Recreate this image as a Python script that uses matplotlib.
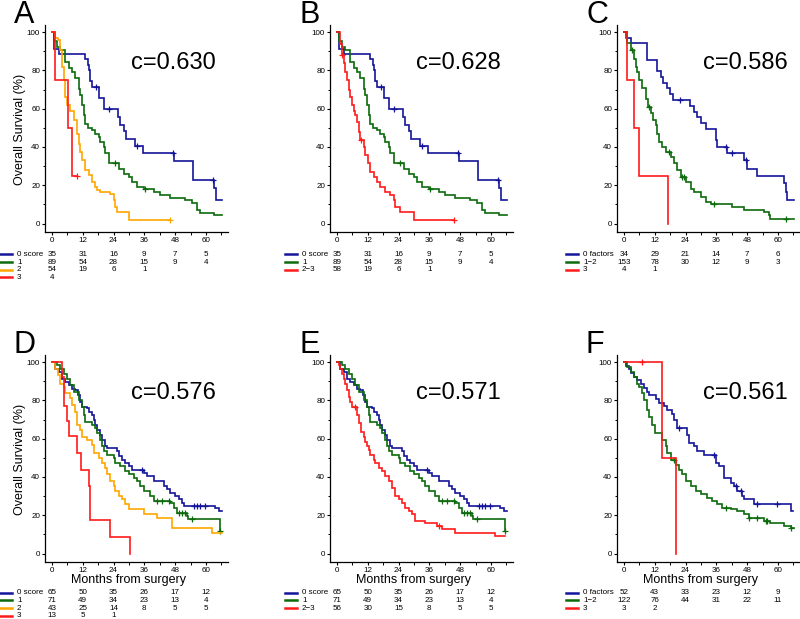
import matplotlib
matplotlib.use('Agg')
import matplotlib.pyplot as plt
from matplotlib.transforms import blended_transform_factory
from matplotlib.lines import Line2D
import numpy as np

plt.rcParams['font.family'] = ['Liberation Sans', 'DejaVu Sans']

# ---------------- data ----------------
months_ticks = [0, 12, 24, 36, 48, 60]

# score 0 (panels A, B)
a0_t = [0.6, 2.6, 13.0, 13.9, 14.4, 14.7, 15.0, 15.4, 18.3, 20.4, 25.9, 26.4, 28.0, 29.0, 32.5, 35.5, 47.4, 54.9, 63.0, 64.0]
a0_s = [91.4, 88.6, 85.7, 82.9, 80.0, 77.1, 74.3, 71.4, 65.7, 60.0, 55.7, 51.4, 48.5, 44.3, 40.6, 36.7, 32.5, 23.0, 18.5, 12.3]
a0_c = [17.3, 22.1, 33.1, 47.1, 62.7]
a0_end = 66.2
# score 1 (panels A, B)
a1_t = [0.65, 1.9, 3.2, 5.2, 6.5, 7.8, 9.1, 10.4, 11.0, 11.7, 12.3, 13.0, 13.9, 15.6, 16.9, 18.2, 18.8, 20.1, 20.8, 22.1,
        26.0, 27.9, 29.9, 31.2, 33.1, 35.7, 39.6, 42.2, 46.1, 51.9, 54.5, 56.5, 57.8, 63.0]
a1_s = [95.5, 92.1, 90.6, 84.5, 81.0, 79.0, 75.8, 70.5, 67.0, 61.8, 56.6, 52.0, 50.0, 48.8, 47.0, 45.0, 42.7, 40.0, 36.6, 31.4,
        28.7, 26.0, 24.4, 21.8, 19.2, 18.3, 16.5, 14.8, 13.4, 12.2, 10.5, 7.0, 5.6, 4.4]
a1_c = [24.7, 36.4]
a1_end = 66.2
# score 2 (panel A)
a2_t = [1.3, 2.2, 3.2, 3.9, 4.5, 5.2, 5.8, 7.1, 8.4, 9.7, 10.4, 11.0, 11.7, 13.0, 14.3, 15.6, 16.9, 17.5, 18.8, 22.7,
        24.0, 24.7, 25.3, 29.9]
a2_s = [97.0, 95.8, 90.6, 81.9, 75.0, 66.0, 61.8, 59.0, 54.0, 47.0, 41.8, 37.5, 33.0, 27.9, 25.3, 21.8, 19.2, 17.4, 16.5, 15.7,
        12.2, 8.7, 6.1, 1.7]
a2_c = [46.1]
a2_end = 46.1
# score 3 (panel A)
a3_t = [1.3, 6.2, 7.8]
a3_s = [75.0, 50.0, 25.0]
a3_c = [9.7]
a3_end = 9.7
# score 2-3 (panel B)
b23_t = [1.3, 1.9, 2.6, 3.2, 3.9, 4.5, 5.2, 5.8, 6.5, 7.1, 7.8, 8.4, 8.8, 10.4, 11.0, 12.1, 13.0, 14.3, 15.6, 16.9,
         18.8, 20.8, 22.1, 22.7, 24.7, 29.9]
b23_s = [94.0, 88.0, 83.6, 79.0, 75.0, 69.7, 66.0, 61.8, 59.0, 56.6, 53.0, 48.0, 43.6, 40.0, 35.7, 31.4, 27.0, 24.4, 21.8, 19.2,
         16.5, 14.8, 12.2, 8.7, 6.1, 1.7]
b23_c = [1.9, 9.5, 45.7]
b23_end = 45.7
# factors 0 (panel C)
c0_t = [1.3, 2.6, 8.8, 12.7, 14.3, 15.3, 16.9, 17.9, 19.2, 25.7, 27.3, 28.6, 29.9, 31.8, 35.7, 36.4, 40.3, 46.8, 47.8, 51.9,
        62.3, 63.0, 63.6]
c0_s = [97.1, 94.1, 85.3, 79.5, 76.6, 73.5, 70.6, 67.6, 64.7, 61.6, 58.5, 55.4, 52.3, 49.2, 43.7, 40.0, 36.6, 33.0, 28.7, 25.0,
        21.0, 16.5, 12.2]
c0_c = [21.8, 39.6, 42.2, 47.4]
c0_end = 66.2
# factors 1-2 (panel C)
c12_t = [0.65, 1.3, 2.6, 3.9, 4.5, 5.2, 5.8, 7.1, 8.4, 9.4, 10.4, 11.4, 12.3, 13.0, 13.6, 14.9, 16.2, 18.2, 19.5, 20.8,
         22.1, 24.0, 26.0, 27.3, 29.9, 31.8, 33.8, 42.2, 46.8, 54.5, 56.5, 57.1]
c12_s = [96.7, 94.4, 90.6, 86.0, 81.9, 79.0, 75.0, 70.6, 65.3, 61.0, 57.5, 54.0, 51.4, 47.0, 42.7, 40.0, 37.5, 34.8, 31.4, 27.9,
         24.4, 21.8, 18.3, 16.5, 13.9, 11.3, 10.1, 8.7, 7.3, 6.1, 4.4, 2.6]
c12_c = [3.2, 9.7, 17.5, 22.7, 23.5, 35.0, 63.0]
c12_end = 66.2
# factors 3 (panel C)
c3_t = [1.3, 3.9, 5.8, 17.3]
c3_s = [75.0, 50.0, 25.0, 0.0]
c3_c = []
c3_end = 17.3
# score 0 (panels D, E)
d0_t = [1.3, 2.6, 3.9, 5.2, 6.5, 7.8, 9.1, 10.0, 11.0, 11.7, 13.6, 14.3, 15.6, 16.2, 16.9, 17.5, 18.6, 19.5, 20.8, 21.4,
        25.3, 26.0, 27.3, 28.6, 29.9, 31.2, 35.7, 37.0, 39.6, 43.5, 44.8, 46.1, 48.1, 49.4, 50.6, 51.3, 63.6, 64.9]
d0_s = [96.5, 94.8, 91.4, 89.6, 87.9, 86.2, 85.3, 82.7, 79.3, 76.7, 75.8, 74.0, 72.4, 69.8, 67.2, 64.6, 62.0, 59.4, 56.0, 55.0,
        53.4, 50.8, 49.0, 47.3, 45.6, 43.9, 42.1, 40.4, 37.8, 35.2, 33.5, 31.8, 30.0, 28.3, 26.6, 24.9, 24.0, 22.3]
d0_c = [35.1, 55.2, 56.5, 57.8, 59.7]
d0_end = 66.2
# score 1 (panels D, E)
d1_t = [1.9, 3.2, 4.5, 5.8, 7.1, 8.4, 10.4, 11.7, 12.3, 13.0, 15.6, 16.9, 17.5, 18.8, 19.5, 20.1, 21.4, 24.0, 24.7, 26.6,
        28.6, 29.9, 31.8, 33.1, 34.4, 35.7, 38.3, 39.6, 46.1, 47.4, 48.7, 52.6, 53.2, 65.6]
d1_s = [98.3, 96.5, 94.0, 91.4, 87.9, 84.5, 80.1, 76.7, 72.4, 68.9, 67.2, 65.5, 62.9, 59.4, 56.0, 53.4, 51.6, 49.9, 47.3, 45.6,
        43.0, 41.3, 39.6, 37.8, 35.2, 32.6, 30.1, 27.5, 26.6, 24.0, 21.4, 19.7, 18.0, 11.9]
d1_c = [40.9, 42.9, 45.5, 49.4, 50.6, 51.9, 54.5, 65.6]
d1_end = 65.6
# score 2 (panel D)
d2_t = [1.3, 2.2, 3.2, 4.5, 5.2, 7.1, 7.8, 9.1, 9.7, 11.0, 11.7, 13.6, 15.6, 16.2, 18.2, 19.5, 20.8, 21.4, 22.7, 24.0,
        24.7, 26.0, 27.3, 28.6, 29.9, 35.7, 40.9, 46.8, 62.3]
d2_s = [96.5, 93.0, 88.8, 87.0, 83.6, 81.0, 77.5, 74.1, 67.2, 64.6, 61.1, 59.4, 56.8, 52.5, 49.9, 47.3, 44.7, 41.3, 37.8, 35.2,
        32.6, 30.0, 28.3, 25.7, 23.1, 20.6, 18.8, 13.6, 11.0]
d2_c = []
d2_end = 66.2
# score 3 (panel D)
d3_t = [3.9, 4.5, 5.8, 6.5, 9.7, 11.4, 14.3, 14.7, 22.5, 30.5]
d3_s = [92.3, 76.9, 69.2, 61.5, 52.5, 43.9, 35.2, 17.6, 8.8, 0.0]
d3_c = []
d3_end = 30.5
# score 2-3 (panel E)
e23_t = [0.65, 1.3, 1.9, 2.6, 3.2, 3.9, 4.5, 5.2, 5.8, 7.8, 8.4, 9.5, 10.4, 11.0, 11.7, 12.3, 13.0, 14.3, 14.9, 16.2,
         17.5, 18.8, 20.1, 21.4, 22.7, 24.0, 25.3, 26.6, 27.9, 29.2, 30.5, 34.4, 39.0, 40.9, 46.1, 61.7]
e23_s = [98.3, 96.5, 94.0, 91.4, 88.8, 85.3, 81.9, 79.3, 76.7, 72.4, 68.0, 63.7, 61.1, 58.5, 56.0, 54.2, 51.6, 49.0, 47.3, 44.7,
         43.0, 40.4, 37.8, 34.4, 30.0, 28.3, 26.6, 24.0, 22.3, 20.6, 17.1, 15.9, 14.5, 12.8, 11.0, 9.0]
e23_c = [6.9, 39.6]
e23_end = 65.6
# factors 0 (panel F)
f0_t = [0.65, 1.9, 2.6, 3.9, 5.2, 6.5, 7.8, 9.1, 9.7, 12.3, 13.6, 15.6, 16.9, 18.8, 19.5, 20.8, 24.7, 25.3, 27.3, 28.6,
        31.2, 35.7, 37.0, 39.0, 41.6, 42.9, 44.2, 46.1, 46.8, 50.6, 64.9]
f0_s = [98.1, 96.2, 94.2, 92.3, 90.4, 88.5, 86.5, 84.6, 82.7, 80.8, 78.8, 76.9, 75.0, 73.1, 69.8, 65.5, 62.0, 57.7, 56.0, 53.4,
        51.6, 47.3, 45.6, 39.6, 37.0, 35.2, 32.6, 30.0, 28.3, 25.7, 22.3]
f0_c = [21.4, 35.1, 43.5, 45.5, 51.9, 59.7]
f0_end = 66.0
# factors 1-2 (panel F)
f12_t = [1.3, 2.6, 3.9, 5.2, 5.8, 7.1, 7.8, 9.1, 9.7, 11.0, 11.9, 14.9, 16.2, 16.9, 18.2, 20.1, 21.4, 22.7, 24.0, 26.0,
         27.9, 29.9, 32.5, 34.4, 36.4, 38.3, 41.6, 44.2, 46.8, 48.7, 54.5, 57.1, 62.3, 64.9]
f12_s = [97.4, 94.8, 92.2, 88.8, 87.0, 83.6, 80.1, 75.0, 71.5, 67.2, 62.9, 59.4, 56.0, 52.5, 49.0, 46.5, 43.9, 41.3, 37.8, 35.2,
         32.6, 30.9, 29.2, 27.5, 25.7, 24.0, 23.1, 22.3, 20.6, 18.8, 17.1, 16.2, 14.5, 13.6]
f12_c = [19.5, 39.6, 48.9, 51.9, 55.2, 55.8, 64.9]
f12_end = 66.2
# factors 3 (panel F)
f3_t = [14.9, 20.1]
f3_s = [50.0, 0.0]
f3_c = [7.1]
f3_end = 20.1

# risk tables
riskA = [[35, 31, 16, 9, 7, 5], [89, 54, 28, 15, 9, 4], [54, 19, 6, 1], [4]]
riskB = [[35, 31, 16, 9, 7, 5], [89, 54, 28, 15, 9, 4], [58, 19, 6, 1]]
riskC = [[34, 29, 21, 14, 7, 6], [153, 78, 30, 12, 9, 3], [4, 1]]
riskD = [[65, 50, 35, 26, 17, 12], [71, 49, 34, 23, 13, 4], [43, 25, 14, 8, 5, 5], [13, 5, 1]]
riskE = [[65, 50, 35, 26, 17, 12], [71, 49, 34, 23, 13, 4], [56, 30, 15, 8, 5, 5]]
riskF = [[52, 43, 33, 23, 12, 9], [122, 76, 44, 31, 22, 11], [3, 2]]

labels_score4 = ['0 score', '1', '2', '3']
labels_score3 = ['0 score', '1', '2\u22123']
labels_factor = ['0 factors', '1\u22122', '3']
c_index = ['c=0.630', 'c=0.628', 'c=0.586', 'c=0.576', 'c=0.571', 'c=0.561']
panel_letters = ['A', 'B', 'C', 'D', 'E', 'F']

BLUE = '#14149a'
GREEN = '#0c6a0c'
ORANGE = '#ffa500'
RED = '#ff1a1a'

# ---------------- figure ----------------
W, H = 800, 619
fig = plt.figure(figsize=(W / 100, H / 100), dpi=100)

AX_W, AX_H = 183, 207
lefts = [45, 330, 617]
tops = [25, 355]
XLIM = (-2.73, 68.6)
YLIM = (-4.4, 103.7)


def step_val(t_arr, s_arr, x):
    v = 100.0
    for tt, ss in zip(t_arr, s_arr):
        if tt <= x:
            v = ss
    return v


def km(ax, t, s, c, end, color):
    xs = np.r_[0.0, t, end]
    ys = np.r_[100.0, s, s[-1]]
    ax.step(xs, ys, where='post', color=color, lw=1.2, solid_joinstyle='miter')
    if len(c):
        cy = [step_val(t, s, x) for x in c]
        ax.plot(c, cy, '+', color=color, ms=4.5, mew=0.9)


panels = [
    ([(a0_t, a0_s, a0_c, a0_end, BLUE), (a1_t, a1_s, a1_c, a1_end, GREEN),
      (a2_t, a2_s, a2_c, a2_end, ORANGE), (a3_t, a3_s, a3_c, a3_end, RED)],
     riskA, labels_score4, [BLUE, GREEN, ORANGE, RED]),
    ([(a0_t, a0_s, a0_c, a0_end, BLUE), (a1_t, a1_s, a1_c, a1_end, GREEN),
      (b23_t, b23_s, b23_c, b23_end, RED)],
     riskB, labels_score3, [BLUE, GREEN, RED]),
    ([(c0_t, c0_s, c0_c, c0_end, BLUE), (c12_t, c12_s, c12_c, c12_end, GREEN),
      (c3_t, c3_s, c3_c, c3_end, RED)],
     riskC, labels_factor, [BLUE, GREEN, RED]),
    ([(d0_t, d0_s, d0_c, d0_end, BLUE), (d1_t, d1_s, d1_c, d1_end, GREEN),
      (d2_t, d2_s, d2_c, d2_end, ORANGE), (d3_t, d3_s, d3_c, d3_end, RED)],
     riskD, labels_score4, [BLUE, GREEN, ORANGE, RED]),
    ([(d0_t, d0_s, d0_c, d0_end, BLUE), (d1_t, d1_s, d1_c, d1_end, GREEN),
      (e23_t, e23_s, e23_c, e23_end, RED)],
     riskE, labels_score3, [BLUE, GREEN, RED]),
    ([(f0_t, f0_s, f0_c, f0_end, BLUE), (f12_t, f12_s, f12_c, f12_end, GREEN),
      (f3_t, f3_s, f3_c, f3_end, RED)],
     riskF, labels_factor, [BLUE, GREEN, RED]),
]

risk_row0 = [254.3, 592.7]
ROW_DY = 7.7

for i, (curves, risk, labels, cols) in enumerate(panels):
    r, col = divmod(i, 3)
    lpx = lefts[col]
    tpx = tops[r]
    ax = fig.add_axes([lpx / W, 1 - (tpx + AX_H) / H, AX_W / W, AX_H / H])
    for (t, s, c, end, color) in curves:
        km(ax, t, s, c, end, color)
    ax.set_xlim(*XLIM)
    ax.set_ylim(*YLIM)
    for sp in ('top', 'right'):
        ax.spines[sp].set_visible(False)
    for sp in ('left', 'bottom'):
        ax.spines[sp].set_linewidth(0.9)
    ax.set_xticks(months_ticks)
    ax.set_xticks([6, 18, 30, 42, 54, 66], minor=True)
    ax.set_yticks([0, 20, 40, 60, 80, 100])
    ax.set_yticks([10, 30, 50, 70, 90], minor=True)
    ax.tick_params(which='major', direction='out', length=2.5, width=0.8, labelsize=5.8, pad=1)
    ax.tick_params(which='minor', direction='out', length=1.8, width=0.7)
    ax.text(47.5, 84, c_index[i], fontsize=17, ha='center', va='center')
    # panel letter
    fig.text((lpx - 31) / W, 1 - (tpx - 2) / H, panel_letters[i], fontsize=22,
             ha='left', va='baseline')
    # risk table
    tr = blended_transform_factory(ax.transData, fig.transFigure)
    lab_off = 34 if labels[0].startswith('0 f') else 28
    lab_x = lpx - lab_off
    for k, (row, lab, colr) in enumerate(zip(risk, labels, cols)):
        ypx = risk_row0[r] + k * ROW_DY
        yf = 1 - ypx / H
        fig.add_artist(Line2D([(lab_x - 17) / W, (lab_x - 5) / W], [yf, yf],
                              transform=fig.transFigure, color=colr, lw=1.8))
        fig.text(lab_x / W, yf, lab, fontsize=5.8, ha='left', va='center')
        for m, n in zip(months_ticks, row):
            ax.text(m, yf, str(n), transform=tr, fontsize=5.8, ha='center', va='center')
    if col == 0:
        fig.text(20 / W, 1 - (tpx + 104) / H, 'Overall Survival (%)', rotation=90,
                 fontsize=9, ha='center', va='center')
    if r == 1:
        ax.text(30, 1 - 580 / H, 'Months from surgery', transform=tr,
                fontsize=9, ha='center', va='center')

fig.savefig('out.png', dpi=100)
